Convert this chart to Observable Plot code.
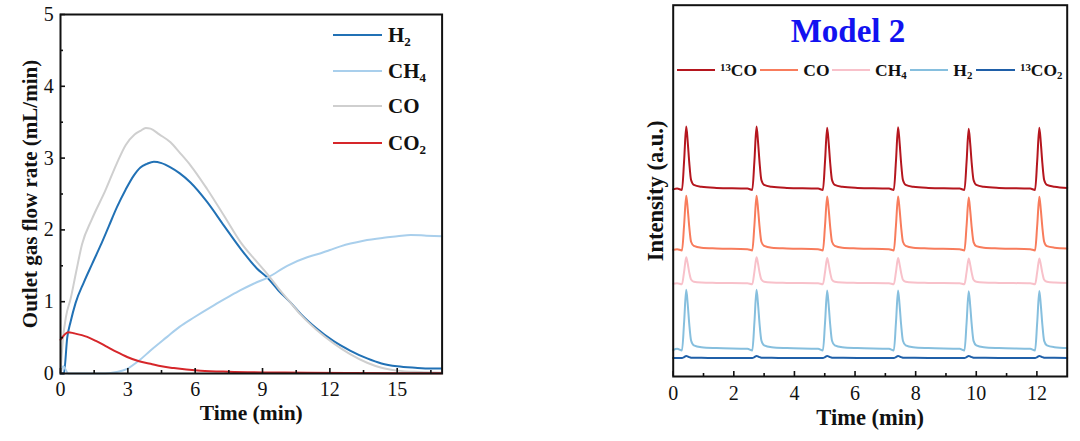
<!DOCTYPE html>
<html><head><meta charset="utf-8">
<script src="https://cdn.jsdelivr.net/npm/d3@7"></script>
<script src="https://cdn.jsdelivr.net/npm/@observablehq/plot@0.6"></script>
<style>
body{margin:0;background:#fff;font-family:"Liberation Serif",serif;}
#wrap{position:relative;width:1080px;height:441px;overflow:hidden;background:#fff}
.panel{position:absolute;top:0}
.lg{position:absolute;font-family:"Liberation Serif",serif;font-weight:bold;color:#111;white-space:nowrap;line-height:1}
.sw{position:absolute;height:0;border-top-width:2px;border-top-style:solid}
.lg sub{font-size:62%;vertical-align:-0.28em;line-height:0}
.lg sup{font-size:62%;vertical-align:0.42em;line-height:0}
</style></head>
<body><div id="wrap"></div>
<script>
// ---------- Left panel data ----------
const tH2L = [0, 0.15, 0.3, 0.45, 0.67, 1.04, 1.4, 1.78, 2.15, 2.52, 2.9, 3.27, 3.56, 3.85, 4.16, 4.5, 4.9, 5.3, 5.79, 6.53, 7.28, 8.02, 8.76, 9.2, 9.7, 10.24, 10.7, 11.4, 12.17, 12.9, 13.66, 14.3, 15, 15.8, 16.5, 17];
const vH2L = [0, 0, 0.5, 0.72, 0.98, 1.27, 1.52, 1.78, 2.05, 2.32, 2.56, 2.76, 2.87, 2.92, 2.95, 2.93, 2.87, 2.79, 2.66, 2.39, 2.06, 1.74, 1.46, 1.34, 1.16, 0.99, 0.83, 0.63, 0.45, 0.32, 0.21, 0.14, 0.1, 0.08, 0.07, 0.07];
const tCOL = [0, 0.1, 0.25, 0.45, 0.7, 0.96, 1.4, 2.0, 2.5, 2.9, 3.3, 3.56, 3.8, 4.01, 4.4, 4.9, 5.3, 5.79, 6.53, 7.28, 8.02, 8.76, 9.2, 9.7, 10.24, 10.7, 11.4, 12.17, 12.9, 13.66, 14.3, 15, 16, 17];
const vCOL = [0, 0.45, 0.8, 1.04, 1.42, 1.8, 2.15, 2.55, 2.92, 3.18, 3.33, 3.38, 3.42, 3.41, 3.33, 3.22, 3.08, 2.9, 2.57, 2.2, 1.83, 1.55, 1.39, 1.19, 0.99, 0.82, 0.61, 0.42, 0.27, 0.15, 0.08, 0.04, 0.02, 0.01];
const tCH4L = [0, 0.12, 0.35, 1.0, 2.0, 2.5, 2.97, 3.5, 4.01, 4.75, 5.3, 5.94, 6.83, 7.5, 8.02, 8.6, 9.25, 10.1, 10.99, 11.44, 12.0, 12.47, 12.92, 13.5, 14.4, 15.0, 15.6, 16.3, 17];
const vCH4L = [0, 0.1, 0, 0, 0, 0.02, 0.065, 0.18, 0.32, 0.51, 0.65, 0.78, 0.95, 1.07, 1.16, 1.25, 1.34, 1.5, 1.62, 1.66, 1.72, 1.77, 1.81, 1.85, 1.89, 1.91, 1.93, 1.92, 1.91];
const tCO2L = [0, 0.35, 0.6, 1.19, 1.6, 2.08, 2.5, 2.97, 3.5, 4.01, 4.5, 5.05, 6.24, 7.5, 9.2, 11, 13, 15, 17];
const vCO2L = [0.47, 0.575, 0.56, 0.51, 0.45, 0.37, 0.3, 0.23, 0.17, 0.135, 0.1, 0.075, 0.04, 0.025, 0.015, 0.01, 0.006, 0.004, 0.003];
const leftNames = ["H2", "CH4", "CO", "CO2"];
const leftColors = ["#2171b5", "#a9cfec", "#cfcfcf", "#d6262a"];
const xMajorL = [0, 3, 6, 9, 12, 15];
const xMinorL = [1.5, 4.5, 7.5, 10.5, 13.5, 16.5];
const yMajorL = [0, 1, 2, 3, 4, 5];
const yMinorL = [0.5, 1.5, 2.5, 3.5, 4.5];

// ---------- Right panel data ----------
const tR = [0,
  0.13, 0.29, 0.36, 0.43, 0.48, 0.53, 0.59, 0.68, 0.93, 1.43,
  2.45, 2.61, 2.68, 2.75, 2.80, 2.85, 2.91, 3.00, 3.25, 3.75,
  4.78, 4.94, 5.01, 5.08, 5.13, 5.18, 5.24, 5.33, 5.58, 6.08,
  7.12, 7.28, 7.35, 7.42, 7.47, 7.52, 7.58, 7.67, 7.92, 8.42,
  9.45, 9.61, 9.68, 9.75, 9.80, 9.85, 9.91, 10.00, 10.25, 10.75,
  11.78, 11.94, 12.01, 12.08, 12.13, 12.18, 12.24, 12.33, 12.58, 13.0];
const r13CO = [50.4,
  50.6, 50.25, 58.1, 67.3, 63.1, 57.6, 52.9, 51.6, 51.1, 50.8,
  50.6, 50.25, 58.1, 67.3, 63.1, 57.6, 52.9, 51.6, 51.1, 50.8,
  50.6, 50.25, 58.0, 67.0, 62.9, 57.5, 52.9, 51.6, 51.1, 50.8,
  50.6, 50.25, 58.0, 67.1, 63.0, 57.5, 52.9, 51.6, 51.1, 50.8,
  50.6, 50.25, 57.8, 66.7, 62.7, 57.4, 52.9, 51.6, 51.1, 50.8,
  50.6, 50.25, 58.0, 67.0, 62.9, 57.5, 52.9, 51.6, 51.1, 50.8];
const rCO = [34.1,
  34.3, 33.95, 40.8, 48.7, 45.1, 40.3, 36.3, 35.2, 34.7, 34.5,
  34.3, 33.95, 40.8, 48.7, 45.1, 40.3, 36.3, 35.2, 34.7, 34.5,
  34.3, 33.95, 40.7, 48.5, 45.0, 40.3, 36.3, 35.2, 34.7, 34.5,
  34.3, 33.95, 40.7, 48.5, 45.0, 40.3, 36.3, 35.2, 34.7, 34.5,
  34.3, 33.95, 40.6, 48.2, 44.7, 40.1, 36.2, 35.1, 34.7, 34.5,
  34.3, 33.95, 40.6, 48.4, 44.9, 40.2, 36.3, 35.1, 34.7, 34.5];
const rCH4 = [25.0,
  25.1, 24.85, 28.25, 32.1, 30.35, 28.0, 26.1, 25.5, 25.3, 25.2,
  25.1, 24.85, 28.25, 32.1, 30.35, 28.0, 26.1, 25.5, 25.3, 25.2,
  25.1, 24.85, 28.15, 31.9, 30.2, 27.95, 26.05, 25.5, 25.3, 25.2,
  25.1, 24.85, 28.15, 31.9, 30.2, 27.95, 26.05, 25.5, 25.3, 25.2,
  25.1, 24.85, 28.1, 31.8, 30.1, 27.9, 26.05, 25.5, 25.3, 25.2,
  25.1, 24.85, 28.1, 31.8, 30.1, 27.9, 26.05, 25.5, 25.3, 25.2];
const rH2 = [7.1,
  7.45, 7.0, 14.6, 23.35, 19.4, 14.1, 9.7, 8.4, 7.9, 7.65,
  7.45, 7.0, 14.6, 23.35, 19.4, 14.1, 9.7, 8.4, 7.9, 7.65,
  7.45, 7.0, 14.5, 23.15, 19.2, 14.0, 9.65, 8.4, 7.9, 7.65,
  7.45, 7.0, 14.5, 23.15, 19.2, 14.0, 9.65, 8.4, 7.9, 7.65,
  7.45, 7.0, 14.4, 22.95, 19.1, 13.95, 9.6, 8.4, 7.9, 7.65,
  7.45, 7.0, 14.5, 23.05, 19.15, 14.0, 9.6, 8.4, 7.9, 7.65];
const r13CO2 = [5.0,
  5.0, 4.95, 5.22, 5.5, 5.4, 5.22, 5.08, 5.04, 5.02, 5.0,
  5.0, 4.95, 5.22, 5.5, 5.4, 5.22, 5.08, 5.04, 5.02, 5.0,
  5.0, 4.95, 5.22, 5.5, 5.4, 5.22, 5.08, 5.04, 5.02, 5.0,
  5.0, 4.95, 5.22, 5.5, 5.4, 5.22, 5.08, 5.04, 5.02, 5.0,
  5.0, 4.95, 5.22, 5.5, 5.4, 5.22, 5.08, 5.04, 5.02, 5.0,
  5.0, 4.95, 5.22, 5.5, 5.4, 5.22, 5.08, 5.04, 5.02, 5.0];
const rightNames = ["13CO", "CO", "CH4", "H2", "13CO2"];
const rightColors = ["#b5161e", "#f87c5c", "#f8c1ca", "#86bfde", "#1f5fa8"];
const xMajorR = [0, 2, 4, 6, 8, 10, 12];
const xMinorR = [1, 3, 5, 7, 9, 11];

// ---------- helpers ----------
const pts = (t, v) => t.map((x, i) => ({x, y: v[i]}));
const FONT = "Liberation Serif";
const wrap = document.getElementById("wrap");

// ---------- Left plot ----------
const leftData = [pts(tH2L, vH2L), pts(tCH4L, vCH4L), pts(tCOL, vCOL), pts(tCO2L, vCO2L)];
const leftPlot = Plot.plot({
  width: 460, height: 441,
  marginLeft: 60, marginRight: 18.4, marginTop: 14, marginBottom: 68,
  style: {fontFamily: FONT, fontSize: "20px", color: "#111", background: "transparent", overflow: "visible"},
  x: {domain: [0, 17]},
  y: {domain: [0, 5]},
  marks: [
    ...leftData.map((d, i) => Plot.line(d, {x: "x", y: "y", stroke: leftColors[i], strokeWidth: 2, curve: "monotone-x"})),
    Plot.axisX({ticks: xMajorL, tickSize: -5, tickPadding: 13, strokeWidth: 1.6, tickFormat: d => String(d), label: null, fontSize: 20}),
    Plot.axisX({ticks: xMinorL, tickSize: -3, tickPadding: 13, strokeWidth: 1.6, tickFormat: () => "", label: null}),
    Plot.axisX({ticks: [0], tickSize: 0, tickFormat: () => "", label: "Time (min)", labelAnchor: "center", labelArrow: "none", labelOffset: 46, fontWeight: "bold", fontSize: 21.5}),
    Plot.axisY({ticks: yMajorL, tickSize: -5, tickPadding: 11.7, strokeWidth: 1.6, tickFormat: d => String(d), label: null, fontSize: 20}),
    Plot.axisY({ticks: yMinorL, tickSize: -3, tickPadding: 11.7, strokeWidth: 1.6, tickFormat: () => "", label: null}),
    Plot.axisY({ticks: [0], tickSize: 0, tickFormat: () => "", label: "Outlet gas flow rate (mL/min)", labelAnchor: "center", labelArrow: "none", labelOffset: 38, fontWeight: "bold", fontSize: 21}),
    Plot.frame({stroke: "#111", strokeWidth: 2})
  ]
});
leftPlot.classList.add("panel");
leftPlot.style.left = "0px";
wrap.appendChild(leftPlot);

// ---------- Right plot ----------
const rightSeries = [r13CO, rCO, rCH4, rH2, r13CO2];
const rightPlot = Plot.plot({
  width: 450, height: 441,
  marginLeft: 42.7, marginRight: 13.3, marginTop: 4.7, marginBottom: 65,
  style: {fontFamily: FONT, fontSize: "20px", color: "#111", background: "transparent", overflow: "visible"},
  x: {domain: [0, 13]},
  y: {domain: [0, 100]},
  marks: [
    ...rightSeries.map((v, i) => Plot.line(pts(tR, v), {x: "x", y: "y", stroke: rightColors[i], strokeWidth: 2, curve: "monotone-x"})),
    Plot.axisX({ticks: xMajorR, tickSize: -5, tickPadding: 14, strokeWidth: 1.6, tickFormat: d => String(d), label: null, fontSize: 20}),
    Plot.axisX({ticks: xMinorR, tickSize: -3, tickPadding: 14, strokeWidth: 1.6, tickFormat: () => "", label: null}),
    Plot.axisX({ticks: [0], tickSize: 0, tickFormat: () => "", label: "Time (min)", labelAnchor: "center", labelArrow: "none", labelOffset: 48, fontWeight: "bold", fontSize: 22.5}),
    Plot.axisY({ticks: [50], tickSize: 0, tickFormat: () => "", label: "Intensity (a.u.)", labelAnchor: "center", labelArrow: "none", labelOffset: 26, fontWeight: "bold", fontSize: 22.5}),
    Plot.frame({stroke: "#111", strokeWidth: 2})
  ]
});
rightPlot.classList.add("panel");
rightPlot.style.left = "630px";
wrap.appendChild(rightPlot);

// ---------- Legends (HTML overlay) ----------
function addText(html, left, capCenter, size, extra) {
  const d = document.createElement("div");
  d.className = "lg";
  d.innerHTML = html;
  d.style.left = left + "px";
  d.style.top = (capCenter - 0.5065 * size) + "px";
  d.style.fontSize = size + "px";
  if (extra) Object.assign(d.style, extra);
  wrap.appendChild(d);
}
function addSwatch(x1, x2, y, color) {
  const s = document.createElement("div");
  s.className = "sw";
  s.style.left = x1 + "px";
  s.style.width = (x2 - x1) + "px";
  s.style.top = (y - 1) + "px";
  s.style.borderTopColor = color;
  wrap.appendChild(s);
}
const fmt = n => n.replace(/^13/, "<sup>13</sup>").replace(/(\D)(\d)$/, "$1<sub>$2</sub>");

// left legend
const leftLegY = [35, 70.5, 106, 143.3];
leftNames.forEach((n, i) => {
  addSwatch(333.3, 381.7, leftLegY[i], leftColors[i]);
  addText(fmt(n), 388, leftLegY[i] + 0.8, 21);
});

// right legend
const rSw = [[677.3, 715], [760, 798.3], [832.3, 870], [910, 948.3], [976, 1015]];
const rTx = [720, 803.3, 875, 953.3, 1020];
rightNames.forEach((n, i) => {
  addSwatch(rSw[i][0], rSw[i][1], 70, rightColors[i]);
  addText(fmt(n), rTx[i], 71, 17.5);
});

// title
addText("Model 2", 848, 32, 33, {color: "#1212f0", transform: "translateX(-50%)"});
</script>
</body></html>
